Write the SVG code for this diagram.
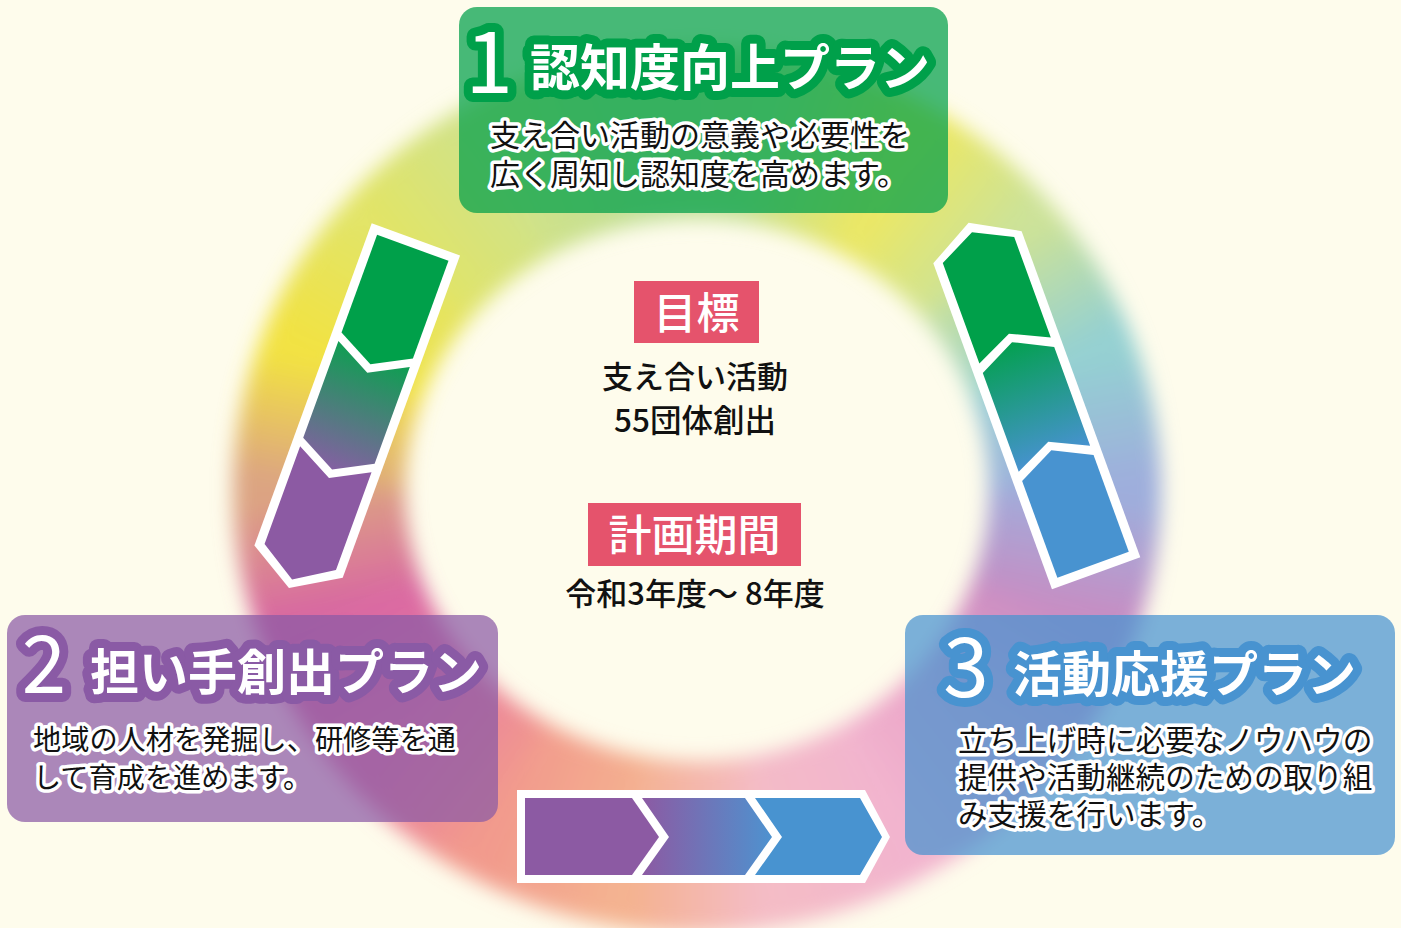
<svg xmlns="http://www.w3.org/2000/svg" width="1401" height="928" viewBox="0 0 1401 928">
<defs>
<style>
.t{font-family:"Noto Sans CJK JP","Noto Sans",sans-serif;}
.num{font-weight:400;fill:#fff;stroke-width:18;stroke-linejoin:round;paint-order:stroke;}
.ttl{font-weight:700;fill:#fff;stroke-width:18;stroke-linejoin:round;paint-order:stroke;}
.desc{font-weight:400;fill:#111;stroke:#fff;stroke-width:7;stroke-linejoin:round;paint-order:stroke;}
.ctr{font-weight:500;fill:#111;text-anchor:middle;}
.lbl{font-weight:500;fill:#fff;text-anchor:middle;}
.ring path{fill:none;stroke-width:172;}
.wht{fill:#fff;}
.grn{fill:#00a04a;}
.pur{fill:#8c5aa3;}
.blu{fill:#4893d0;}
</style>
<filter id="blur" x="-15%" y="-15%" width="130%" height="130%"><feGaussianBlur stdDeviation="10"/></filter>
<linearGradient id="r0" gradientUnits="userSpaceOnUse" x1="1075" y1="490" x2="1052.2" y2="612.1"><stop offset="0" stop-color="#9eaedc"/><stop offset="1" stop-color="#c88cc2"/></linearGradient>
<linearGradient id="r1" gradientUnits="userSpaceOnUse" x1="1052.2" y1="612.1" x2="986.6" y2="719.5"><stop offset="0" stop-color="#c88cc2"/><stop offset="1" stop-color="#e8a0c6"/></linearGradient>
<linearGradient id="r2" gradientUnits="userSpaceOnUse" x1="986.6" y1="719.5" x2="886" y2="799.2"><stop offset="0" stop-color="#e8a0c6"/><stop offset="1" stop-color="#f2b4ce"/></linearGradient>
<linearGradient id="r3" gradientUnits="userSpaceOnUse" x1="886" y1="799.2" x2="762.6" y2="841.6"><stop offset="0" stop-color="#f2b4ce"/><stop offset="1" stop-color="#f4bcc6"/></linearGradient>
<linearGradient id="r4" gradientUnits="userSpaceOnUse" x1="762.6" y1="841.6" x2="631.4" y2="841.6"><stop offset="0" stop-color="#f4bcc6"/><stop offset="1" stop-color="#f4b290"/></linearGradient>
<linearGradient id="r5" gradientUnits="userSpaceOnUse" x1="631.4" y1="841.6" x2="508" y2="799.2"><stop offset="0" stop-color="#f4b290"/><stop offset="1" stop-color="#f29a8c"/></linearGradient>
<linearGradient id="r6" gradientUnits="userSpaceOnUse" x1="508" y1="799.2" x2="407.4" y2="719.5"><stop offset="0" stop-color="#f29a8c"/><stop offset="1" stop-color="#e87ca2"/></linearGradient>
<linearGradient id="r7" gradientUnits="userSpaceOnUse" x1="407.4" y1="719.5" x2="341.8" y2="612.1"><stop offset="0" stop-color="#e87ca2"/><stop offset="1" stop-color="#d866a2"/></linearGradient>
<linearGradient id="r8" gradientUnits="userSpaceOnUse" x1="341.8" y1="612.1" x2="319" y2="490"><stop offset="0" stop-color="#d866a2"/><stop offset="1" stop-color="#dca482"/></linearGradient>
<linearGradient id="r9" gradientUnits="userSpaceOnUse" x1="319" y1="490" x2="341.8" y2="367.9"><stop offset="0" stop-color="#dca482"/><stop offset="1" stop-color="#f2e242"/></linearGradient>
<linearGradient id="r10" gradientUnits="userSpaceOnUse" x1="341.8" y1="367.9" x2="407.4" y2="260.5"><stop offset="0" stop-color="#f2e242"/><stop offset="1" stop-color="#e2e466"/></linearGradient>
<linearGradient id="r11" gradientUnits="userSpaceOnUse" x1="407.4" y1="260.5" x2="508" y2="180.8"><stop offset="0" stop-color="#e2e466"/><stop offset="1" stop-color="#d0e288"/></linearGradient>
<linearGradient id="r12" gradientUnits="userSpaceOnUse" x1="508" y1="180.8" x2="631.4" y2="138.4"><stop offset="0" stop-color="#d0e288"/><stop offset="1" stop-color="#c0de98"/></linearGradient>
<linearGradient id="r13" gradientUnits="userSpaceOnUse" x1="631.4" y1="138.4" x2="762.6" y2="138.4"><stop offset="0" stop-color="#c0de98"/><stop offset="1" stop-color="#c6e094"/></linearGradient>
<linearGradient id="r14" gradientUnits="userSpaceOnUse" x1="762.6" y1="138.4" x2="886" y2="180.8"><stop offset="0" stop-color="#c6e094"/><stop offset="1" stop-color="#eee860"/></linearGradient>
<linearGradient id="r15" gradientUnits="userSpaceOnUse" x1="886" y1="180.8" x2="986.6" y2="260.5"><stop offset="0" stop-color="#eee860"/><stop offset="1" stop-color="#cce298"/></linearGradient>
<linearGradient id="r16" gradientUnits="userSpaceOnUse" x1="986.6" y1="260.5" x2="1052.2" y2="367.9"><stop offset="0" stop-color="#cce298"/><stop offset="1" stop-color="#94d0d2"/></linearGradient>
<linearGradient id="r17" gradientUnits="userSpaceOnUse" x1="1052.2" y1="367.9" x2="1075" y2="490"><stop offset="0" stop-color="#94d0d2"/><stop offset="1" stop-color="#9eaedc"/></linearGradient>
<linearGradient id="gL" x1="0" y1="0" x2="0" y2="1"><stop offset="0" stop-color="#0f9e52"/><stop offset="1" stop-color="#8460a2"/></linearGradient>
<linearGradient id="gR" x1="0" y1="0" x2="0" y2="1"><stop offset="0" stop-color="#04a050"/><stop offset="1" stop-color="#4792d0"/></linearGradient>
<linearGradient id="gB" x1="0" y1="0" x2="1" y2="0"><stop offset="0" stop-color="#8c5aa3"/><stop offset="1" stop-color="#4e92cf"/></linearGradient>
</defs>
<rect width="1401" height="928" fill="#fefcec"/>
<g id="ring" class="ring" filter="url(#blur)">
<path d="M1075 490A378 357 0 0 1 1052.2 612.1" stroke="url(#r0)"/>
<path d="M1052.2 612.1A378 357 0 0 1 986.6 719.5" stroke="url(#r1)"/>
<path d="M986.6 719.5A378 357 0 0 1 886 799.2" stroke="url(#r2)"/>
<path d="M886 799.2A378 357 0 0 1 762.6 841.6" stroke="url(#r3)"/>
<path d="M762.6 841.6A378 357 0 0 1 631.4 841.6" stroke="url(#r4)"/>
<path d="M631.4 841.6A378 357 0 0 1 508 799.2" stroke="url(#r5)"/>
<path d="M508 799.2A378 357 0 0 1 407.4 719.5" stroke="url(#r6)"/>
<path d="M407.4 719.5A378 357 0 0 1 341.8 612.1" stroke="url(#r7)"/>
<path d="M341.8 612.1A378 357 0 0 1 319 490" stroke="url(#r8)"/>
<path d="M319 490A378 357 0 0 1 341.8 367.9" stroke="url(#r9)"/>
<path d="M341.8 367.9A378 357 0 0 1 407.4 260.5" stroke="url(#r10)"/>
<path d="M407.4 260.5A378 357 0 0 1 508 180.8" stroke="url(#r11)"/>
<path d="M508 180.8A378 357 0 0 1 631.4 138.4" stroke="url(#r12)"/>
<path d="M631.4 138.4A378 357 0 0 1 762.6 138.4" stroke="url(#r13)"/>
<path d="M762.6 138.4A378 357 0 0 1 886 180.8" stroke="url(#r14)"/>
<path d="M886 180.8A378 357 0 0 1 986.6 260.5" stroke="url(#r15)"/>
<path d="M986.6 260.5A378 357 0 0 1 1052.2 367.9" stroke="url(#r16)"/>
<path d="M1052.2 367.9A378 357 0 0 1 1075 490" stroke="url(#r17)"/>
</g>
<g id="connectors">
<g id="arrow-left" transform="translate(371.7,223.3) rotate(20)">
<polygon class="wht" points="0,0 94,0 94,343 47,371 0,343"/>
<polygon class="grn" points="9,9 85,9 85,113 47,133 9,113"/>
<polygon fill="url(#gL)" points="9,122 47,142 85,122 85,225 47,245 9,225"/>
<polygon class="pur" points="9,234 47,254 85,234 85,338 47,362 9,338"/>
</g>
<g id="arrow-right" transform="translate(933.3,263.3) rotate(-20)">
<polygon class="wht" points="0,0 47,-26 94,0 94,347 0,347"/>
<polygon class="grn" points="9,3 47,-16 85,3 85,110 47,92 9,110"/>
<polygon fill="url(#gR)" points="9,120 47,101 85,120 85,225 47,207 9,225"/>
<polygon class="blu" points="9,235 47,216 85,235 85,338 9,338"/>
</g>
<g id="arrow-bottom">
<polygon class="wht" points="517,790 865,790 890,837 865,883 517,883"/>
<polygon class="pur" points="525,798 632,798 659,837 632,875 525,875"/>
<polygon fill="url(#gB)" points="642,798 745,798 772,837 745,875 642,875 669,837"/>
<polygon class="blu" points="755,798 860,798 882,837 860,875 755,875 782,837"/>
</g>
</g>
<g id="plan1" class="t">
<rect x="459" y="7" width="489" height="206" rx="18" fill="#00a04a" fill-opacity="0.72"/>
<text class="num" x="489" y="93" font-size="86" text-anchor="middle" stroke="#00a04a">1</text>
<text class="ttl" x="530" y="86" font-size="50" stroke="#00a04a">認知度向上プラン</text>
<text class="desc" x="490" y="146" font-size="30">支え合い活動の意義や必要性を</text>
<text class="desc" x="490" y="184.5" font-size="30">広く周知し認知度を高めます。</text>
</g>
<g id="plan2" class="t">
<rect x="7" y="615" width="491" height="207" rx="18" fill="#8a5aa5" fill-opacity="0.72"/>
<text class="num" x="44" y="693" font-size="80" text-anchor="middle" stroke="#8a5aa5">2</text>
<text class="ttl" x="90" y="690" font-size="49" stroke="#8a5aa5">担い手創出プラン</text>
<text class="desc" x="33" y="750" font-size="28.2">地域の人材を発掘し、研修等を通</text>
<text class="desc" x="33" y="788" font-size="28.2">して育成を進めます。</text>
</g>
<g id="plan3" class="t">
<rect x="905" y="615" width="490" height="240" rx="18" fill="#4893d0" fill-opacity="0.72"/>
<text class="num" x="966" y="697" font-size="82" text-anchor="middle" stroke="#4893d0">3</text>
<text class="ttl" x="1013" y="692" font-size="49" stroke="#4893d0">活動応援プラン</text>
<text class="desc" x="958" y="751" font-size="29.6">立ち上げ時に必要なノウハウの</text>
<text class="desc" x="958" y="788" font-size="29.6">提供や活動継続のための取り組</text>
<text class="desc" x="958" y="825" font-size="29.6">み支援を行います。</text>
</g>
<g id="goal" class="t">
<rect x="634" y="281" width="125" height="62" fill="#e5536c"/>
<text class="lbl" x="696.5" y="329" font-size="43">目標</text>
<text class="ctr" x="695" y="388" font-size="31">支え合い活動</text>
<text class="ctr" x="695" y="432" font-size="31.5">55団体創出</text>
</g>
<g id="period" class="t">
<rect x="588" y="503" width="213" height="63" fill="#e5536c"/>
<text class="lbl" x="694.5" y="551" font-size="43">計画期間</text>
<text class="ctr" x="695" y="605" font-size="31">令和3年度～ 8年度</text>
</g>
</svg>
